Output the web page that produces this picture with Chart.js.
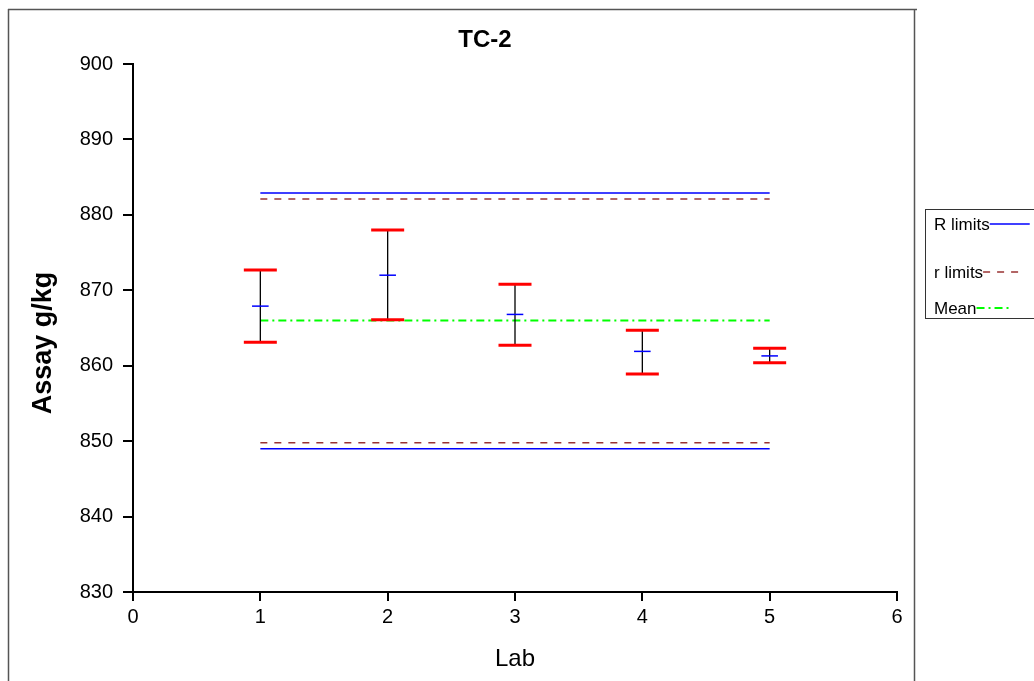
<!DOCTYPE html>
<html><head><meta charset="utf-8">
<script src="https://cdn.jsdelivr.net/npm/chart.js@4.4.1/dist/chart.umd.min.js"></script>
<style>html,body{margin:0;padding:0;background:#fff;overflow:hidden}canvas{display:block}</style>
</head><body>
<canvas id="c" width="1034" height="681"></canvas>
<script>
// ---- data ----
const labs = [1, 2, 3, 4, 5];
const upperLimits = [872.7, 878.0, 870.8, 864.7, 862.3];
const lowerLimits = [863.1, 866.1, 862.7, 858.9, 860.4];
const labMeans = [867.9, 872.0, 866.8, 861.9, 861.3];
const bigRLimits = [849.0, 882.9];
const smallRLimits = [849.8, 882.1];
const grandMean = [866.0];
const limitSpan = [1, 5];
const xTicks = [0, 1, 2, 3, 4, 5, 6];
const yTicks = [830, 840, 850, 860, 870, 880, 890, 900];
const legendOrder = ['R limits', 'r limits', 'Mean'];
const chartTitle = 'TC-2';
const xTitle = 'Lab';
const yTitle = 'Assay g/kg    ';

const FONT = "'Liberation Sans', Arial, Helvetica, sans-serif";
Chart.defaults.font.family = FONT;
Chart.defaults.color = '#000';

function hLines(values) {
  const d = [];
  values.forEach((v, i) => {
    if (i) d.push({x: limitSpan[1], y: null});
    d.push({x: limitSpan[0], y: v}, {x: limitSpan[1], y: v});
  });
  return d;
}
const barData = [];
labs.forEach((l, i) => {
  if (i) barData.push({x: l, y: null});
  barData.push({x: l, y: lowerLimits[i]}, {x: l, y: upperLimits[i]});
});
const capData = [];
labs.forEach((l, i) => { capData.push({x: l, y: upperLimits[i]}, {x: l, y: lowerLimits[i]}); });
const meanData = labs.map((l, i) => ({x: l, y: labMeans[i]}));

const framePlugin = {
  id: 'frame',
  afterDraw(chart) {
    const ctx = chart.ctx;
    ctx.save();
    ctx.strokeStyle = '#555';
    ctx.lineWidth = 1.5;
    ctx.beginPath();
    ctx.moveTo(8, 9.5); ctx.lineTo(917, 9.5);
    ctx.moveTo(8.5, 9); ctx.lineTo(8.5, 681);
    ctx.moveTo(914.5, 9); ctx.lineTo(914.5, 681);
    ctx.stroke();
    // title
    ctx.fillStyle = '#000';
    ctx.font = 'bold 24px ' + FONT;
    ctx.textAlign = 'center';
    ctx.textBaseline = 'alphabetic';
    ctx.fillText(chartTitle, 485, 47);
    // legend
    ctx.strokeStyle = '#333';
    ctx.lineWidth = 1;
    ctx.strokeRect(925.5, 209.5, 130, 109);
    ctx.font = '17px ' + FONT;
    ctx.textAlign = 'left';
    const items = legendOrder.map(n => chart.data.datasets.find(d => d.label === n));
    const rows = [229.5, 277.5, 313.5];
    const lens = [40, 36, 32];
    items.forEach((ds, i) => {
      ctx.fillStyle = '#000';
      ctx.fillText(ds.label, 934, rows[i]);
      const w = ctx.measureText(ds.label).width;
      ctx.save();
      ctx.strokeStyle = ds.borderColor;
      ctx.lineWidth = ds.borderWidth;
      ctx.setLineDash(ds.borderDash || []);
      ctx.beginPath();
      const y = rows[i] - 5.5;
      ctx.moveTo(934 + w, y); ctx.lineTo(934 + w + lens[i], y);
      ctx.stroke();
      ctx.restore();
    });
    ctx.restore();
  }
};

new Chart(document.getElementById('c'), {
  type: 'scatter',
  data: {
    datasets: [
      {label: 'caps', data: capData, showLine: false, pointStyle: 'line', pointRadius: 16.5,
       borderColor: '#ff0000', borderWidth: 3, pointBorderWidth: 3},
      {label: 'labmean', data: meanData, showLine: false, pointStyle: 'line', pointRadius: 8.3,
       borderColor: '#0000ff', borderWidth: 1.5},
      {label: 'bars', data: barData, showLine: true, spanGaps: false, pointRadius: 0,
       borderColor: '#000', borderWidth: 1.3},
      {label: 'Mean', data: hLines(grandMean), showLine: true, spanGaps: false, pointRadius: 0,
       borderColor: '#00ff00', borderWidth: 2, borderDash: [8, 4, 2, 4]},
      {label: 'r limits', data: hLines(smallRLimits), showLine: true, spanGaps: false, pointRadius: 0,
       borderColor: '#993333', borderWidth: 1.5, borderDash: [7, 7]},
      {label: 'R limits', data: hLines(bigRLimits), showLine: true, spanGaps: false, pointRadius: 0,
       borderColor: '#0000ff', borderWidth: 1.5}
    ]
  },
  options: {
    responsive: false,
    animation: false,
    events: [],
    layout: {padding: {left: 0, right: 137, top: 64, bottom: 0}},
    plugins: {legend: {display: false}, title: {display: false}, tooltip: {enabled: false}},
    scales: {
      x: {
        type: 'linear', min: xTicks[0], max: xTicks[xTicks.length - 1],
        afterBuildTicks: s => { s.ticks = xTicks.map(v => ({value: v})); },
        border: {display: true, color: '#000', width: 2},
        grid: {drawOnChartArea: false, drawTicks: true, tickLength: 9, color: '#000', lineWidth: 2},
        ticks: {color: '#000', font: {size: 20}, padding: 4, maxRotation: 0},
        title: {display: true, text: xTitle, color: '#000', font: {size: 24}, padding: {top: 2, bottom: 7}},
        afterFit: s => { s.height = 681 - 592; }
      },
      y: {
        type: 'linear', min: yTicks[0], max: yTicks[yTicks.length - 1],
        afterBuildTicks: s => { s.ticks = yTicks.map(v => ({value: v})); },
        border: {display: true, color: '#000', width: 2},
        grid: {drawOnChartArea: false, drawTicks: true, tickLength: 10, color: '#000', lineWidth: 2},
        ticks: {color: '#000', font: {size: 20}, padding: 10},
        title: {display: true, text: yTitle, color: '#000', font: {size: 27, weight: 'bold'}, padding: {top: 27, bottom: 0}},
        afterFit: s => { s.width = 133; }
      }
    }
  },
  plugins: [framePlugin]
});
</script>
</body></html>
